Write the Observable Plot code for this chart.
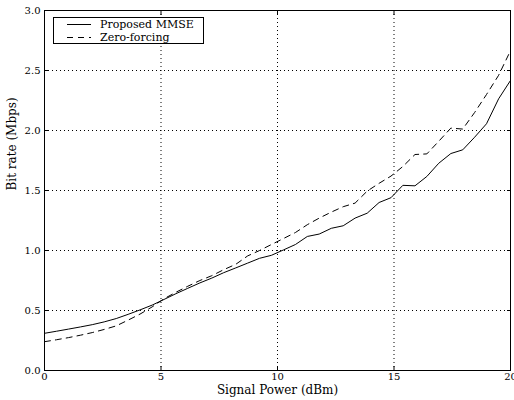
<!DOCTYPE html>
<html><head><meta charset="utf-8">
<script src="https://cdn.jsdelivr.net/npm/d3@7"></script>
<script src="https://cdn.jsdelivr.net/npm/@observablehq/plot@0.6"></script>
<style>
body{margin:0;background:#fff}
#chart svg, #chart svg text { font-family: "DejaVu Serif", "Liberation Serif", serif !important; }
</style>
</head><body><div id="chart"></div>
<script>
// Signal power (dBm) sample points
const power = [0, 0.51, 1.03, 1.54, 2.05, 2.56, 3.08, 3.59, 4.10, 4.62,
  5.13, 5.64, 6.15, 6.67, 7.18, 7.69, 8.21, 8.72, 9.23, 9.74,
  10.26, 10.77, 11.28, 11.79, 12.31, 12.82, 13.33, 13.85, 14.36, 14.87,
  15.38, 15.90, 16.41, 16.92, 17.44, 17.95, 18.46, 18.97, 19.49, 20];
// Proposed MMSE bit rate (Mbps)
const mmse = [0.310, 0.327, 0.345, 0.363, 0.382, 0.405, 0.433, 0.468, 0.505, 0.545,
  0.592, 0.640, 0.685, 0.730, 0.770, 0.815, 0.855, 0.895, 0.935, 0.960,
  1.005, 1.050, 1.117, 1.137, 1.185, 1.206, 1.270, 1.311, 1.400, 1.440,
  1.543, 1.539, 1.617, 1.727, 1.808, 1.839, 1.944, 2.056, 2.264, 2.417];
// Zero-forcing bit rate (Mbps)
const zf = [0.240, 0.256, 0.274, 0.294, 0.316, 0.342, 0.372, 0.420, 0.470, 0.530,
  0.598, 0.652, 0.702, 0.750, 0.790, 0.840, 0.885, 0.955, 1.000, 1.050,
  1.100, 1.150, 1.215, 1.270, 1.320, 1.365, 1.395, 1.495, 1.560, 1.620,
  1.700, 1.800, 1.805, 1.910, 2.020, 2.012, 2.150, 2.300, 2.460, 2.665];
const seriesNames = ["Proposed MMSE", "Zero-forcing"];
const xTicks = [0, 5, 10, 15, 20];
const yTicks = [0, 0.5, 1.0, 1.5, 2.0, 2.5, 3.0];
const xLabel = "Signal Power (dBm)";
const yLabel = "Bit rate (Mbps)";

const rowsM = power.map((p, i) => ({p, v: mmse[i]}));
const rowsZ = power.map((p, i) => ({p, v: zf[i]}));

const font = "'DejaVu Serif', 'Liberation Serif', serif";
const chart = Plot.plot({
  width: 514, height: 400,
  marginLeft: 44, marginRight: 4, marginTop: 10, marginBottom: 30,
  style: {fontFamily: font, fontSize: "10px", background: "#fff", color: "#000", overflow: "visible"},
  x: {domain: [0, 20]},
  y: {domain: [0, 3]},
  marks: [
    Plot.gridX(xTicks, {stroke: "#000", strokeOpacity: 1, strokeWidth: 1, strokeDasharray: "1,3"}),
    Plot.gridY(yTicks, {stroke: "#000", strokeOpacity: 1, strokeWidth: 1, strokeDasharray: "1,3"}),
    Plot.line(rowsM, {x: "p", y: "v", stroke: "#000", strokeWidth: 1}),
    Plot.line(rowsZ, {x: "p", y: "v", stroke: "#000", strokeWidth: 1, strokeDasharray: "6,5"}),
    Plot.axisX(xTicks, {tickSize: -4, tickPadding: 6, tickFormat: d => String(d), label: null, fill: "#000", fontSize: 10}),
    Plot.axisX(xTicks, {anchor: "top", tickSize: -4, tickFormat: () => "", label: null}),
    Plot.axisY(yTicks, {tickSize: -4, tickPadding: 8, tickFormat: d3.format(".1f"), label: null, fill: "#000", fontSize: 10}),
    Plot.axisY(yTicks, {anchor: "right", tickSize: -4, tickFormat: () => "", label: null}),
    Plot.text([xLabel], {frameAnchor: "bottom", dy: 20, text: d => d, fontSize: 12, fill: "#000", lineAnchor: "middle"}),
    Plot.text([yLabel], {frameAnchor: "left", dx: -32, rotate: -90, text: d => d, fontSize: 12, fill: "#000", lineAnchor: "middle"}),
    Plot.frame({stroke: "#000", strokeWidth: 1})
  ]
});
document.getElementById("chart").appendChild(chart);

// legend box (inside plot area, top-left)
const svg = d3.select(chart);
const lg = svg.append("g").attr("font-size", 11).attr("text-anchor", "start");
lg.append("rect").attr("x", 53.5).attr("y", 17.5).attr("width", 150).attr("height", 26)
  .attr("fill", "#fff").attr("stroke", "#000");
seriesNames.forEach((name, i) => {
  const y = 24.5 + i * 13;
  lg.append("line").attr("x1", 67).attr("x2", 91).attr("y1", y).attr("y2", y)
    .attr("stroke", "#000").attr("stroke-dasharray", i ? "6,5" : null);
  lg.append("text").attr("x", 100).attr("y", y).attr("dy", "0.35em").attr("fill", "#000").text(name);
});
</script>
</body></html>
